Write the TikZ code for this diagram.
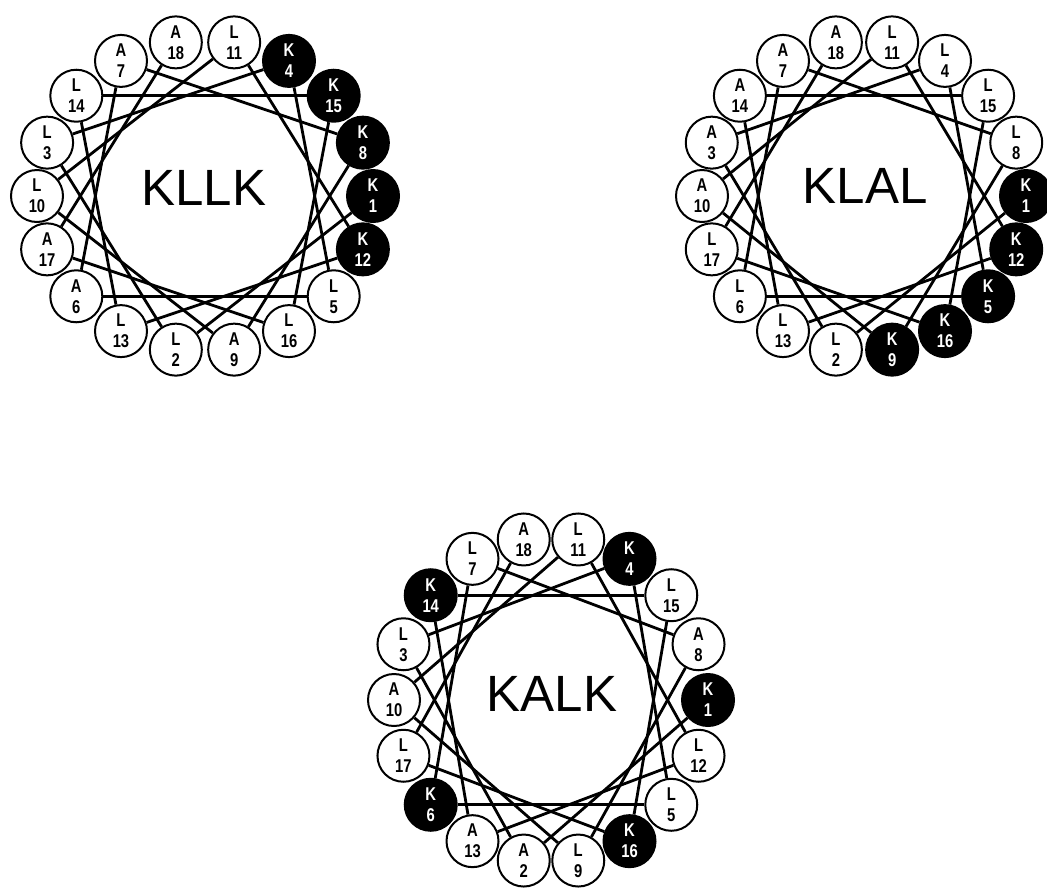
\documentclass[tikz,border=0pt]{standalone}
\usepackage{fontspec}
\setmainfont{Liberation Sans}
\newfontfamily\lab{Liberation Sans}[FakeStretch=0.8]
\colorlet{fillK}{black}
\colorlet{fillL}{white}
\colorlet{fillA}{white}
\colorlet{txtK}{white}
\colorlet{txtL}{black}
\colorlet{txtA}{black}
\tikzset{
  res/.style={circle, draw=black, line width=2pt, minimum size=52pt, inner sep=0pt,
    align=center, font=\lab\bfseries\fontsize{18.5}{21}\selectfont},
  chord/.style={line width=2.8pt, black},
  wheeltitle/.style={font=\fontsize{51}{51}\selectfont, inner sep=0pt}
}
\newcommand\helwheel[6]{%
  \foreach \s [count=\i] in {#6} {
    \pgfmathsetmacro\ang{-100*(\i-1)}
    \node[res, fill=fill\s, text=txt\s] (#1-\i) at ({#2+#4*cos(\ang)},{#3-#5*sin(\ang)}) {\s\\\i};
  }
  \foreach \i in {1,...,17} {
    \pgfmathtruncatemacro\j{\i+1}
    \draw[chord] (#1-\i) -- (#1-\j);
  }
}
\begin{document}
\begin{tikzpicture}[x=1pt,y=-1pt]
\useasboundingbox (0,0) rectangle (1047,887);
\helwheel{a}{205}{196}{168}{156}{K,L,L,K,L,A,A,K,A,L,L,K,L,L,K,L,A,A}
\node[wheeltitle] (ta) at (204,188) {KLLK};
\helwheel{b}{864}{196}{162}{156}{K,L,A,L,K,L,A,L,K,A,L,K,L,A,L,K,L,A}
\node[wheeltitle] (tb) at (865,186) {KLAL};
\helwheel{c}{551}{700}{157}{163}{K,A,L,K,L,K,L,A,L,A,L,L,A,K,L,K,L,A}
\node[wheeltitle] (tc) at (552,694) {KALK};
\end{tikzpicture}
\end{document}
